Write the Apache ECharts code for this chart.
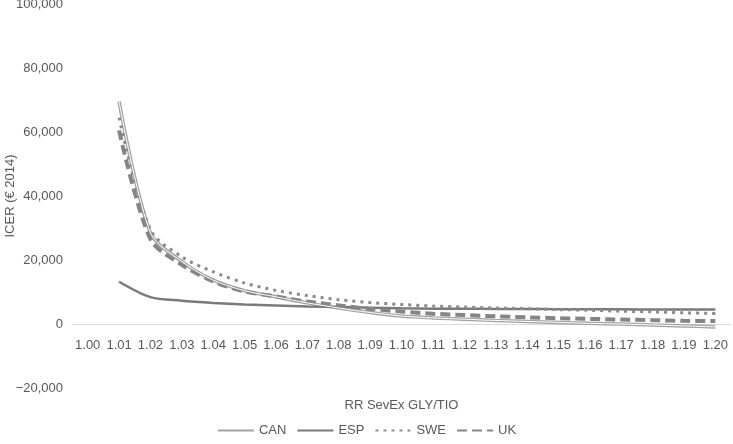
<!DOCTYPE html>
<html>
<head>
<meta charset="utf-8">
<script src="https://cdn.jsdelivr.net/npm/echarts@6/dist/echarts.min.js"></script>
<style>html,body{margin:0;padding:0;background:#fff}#c{width:733px;height:444px}</style>
</head>
<body>
<div id="c"></div>
<script>
var categories = ['1.00','1.01','1.02','1.03','1.04','1.05','1.06','1.07','1.08','1.09','1.10','1.11','1.12','1.13','1.14','1.15','1.16','1.17','1.18','1.19','1.20'];
var canValues = [null, 69500, 28500, 19500, 13700, 10400, 8500, 6600, 5000, 3600, 2500, 1900, 1500, 1100, 800, 500, 200, 0, -300, -600, -900];
var espValues = [null, 13200, 8400, 7300, 6600, 6100, 5800, 5500, 5300, 5100, 4900, 4800, 4800, 4700, 4700, 4600, 4600, 4600, 4500, 4500, 4500];
var sweValues = [null, 64500, 29500, 21000, 16300, 12800, 10500, 8900, 7600, 6700, 6100, 5600, 5300, 5000, 4800, 4500, 4300, 4000, 3800, 3500, 3300];
var ukValues = [null, 60500, 26500, 18500, 13300, 10200, 8600, 7000, 5800, 4700, 3900, 3200, 2800, 2400, 2100, 1800, 1600, 1400, 1200, 1000, 900];
var yTicks = {min: -20000, max: 100000, interval: 20000};

var txt = '#595959';
var font = 'Liberation Sans, Arial, sans-serif';
var chart = echarts.init(document.getElementById('c'));
chart.setOption({
  animation: false,
  textStyle: {fontFamily: font},
  grid: {left: 72, right: 2, top: 4, bottom: 56, containLabel: false, outerBoundsMode: 'none'},
  xAxis: {
    type: 'category', data: categories, boundaryGap: true,
    offset: -64,
    name: 'RR SevEx GLY/TIO', nameLocation: 'middle', nameGap: 75, nameMoveOverlap: false,
    nameTextStyle: {color: txt, fontSize: 13, fontFamily: font},
    axisLine: {onZero: false, lineStyle: {color: '#d9d9d9', width: 1}},
    axisTick: {show: false},
    axisLabel: {color: txt, fontSize: 13, margin: 15, interval: 0, fontFamily: font},
    splitLine: {show: false}
  },
  yAxis: {
    type: 'value', min: yTicks.min, max: yTicks.max, interval: yTicks.interval,
    name: 'ICER (€ 2014)', nameLocation: 'middle', nameGap: 55, nameMoveOverlap: false,
    nameTextStyle: {color: txt, fontSize: 13, fontFamily: font},
    axisLine: {show: false}, axisTick: {show: false}, splitLine: {show: false},
    axisLabel: {color: txt, fontSize: 13, margin: 9, fontFamily: font,
      formatter: function (v) { return v < 0 ? '\u2212' + Math.abs(v).toLocaleString('en-US') : v.toLocaleString('en-US'); }}
  },
  legend: {
    bottom: 2, left: 'center', itemWidth: 36, itemHeight: 10, itemGap: 10,
    itemStyle: {opacity: 0, color: 'rgba(0,0,0,0)', borderWidth: 0},
    textStyle: {color: txt, fontSize: 13, fontFamily: font},
    data: ['CAN', 'ESP', 'SWE', 'UK']
  },
  series: [
    {name: 'CAN', type: 'line', data: canValues, smooth: 0.3, symbol: 'none',
      lineStyle: {color: '#a3a3a3', width: 3.5}, itemStyle: {color: '#a3a3a3'}, z: 2},
    {name: 'CAN', type: 'line', data: canValues, smooth: 0.3, symbol: 'none', silent: true,
      lineStyle: {color: '#ffffff', width: 1}, itemStyle: {color: '#ffffff'}, z: 3},
    {name: 'ESP', type: 'line', data: espValues, smooth: 0.3, symbol: 'none',
      lineStyle: {color: '#7a7a7a', width: 2.5}, itemStyle: {color: '#7a7a7a'}, z: 2},
    {name: 'SWE', type: 'line', data: sweValues, smooth: 0.3, symbol: 'none',
      lineStyle: {color: '#8a8a8a', width: 3, type: [3, 5], cap: 'butt'}, itemStyle: {color: '#8a8a8a'}, z: 2},
    {name: 'UK', type: 'line', data: ukValues, smooth: 0.3, symbol: 'none',
      lineStyle: {color: '#858585', width: 4, type: [10, 5]}, itemStyle: {color: '#858585'}, z: 2}
  ]
});
</script>
</body>
</html>
